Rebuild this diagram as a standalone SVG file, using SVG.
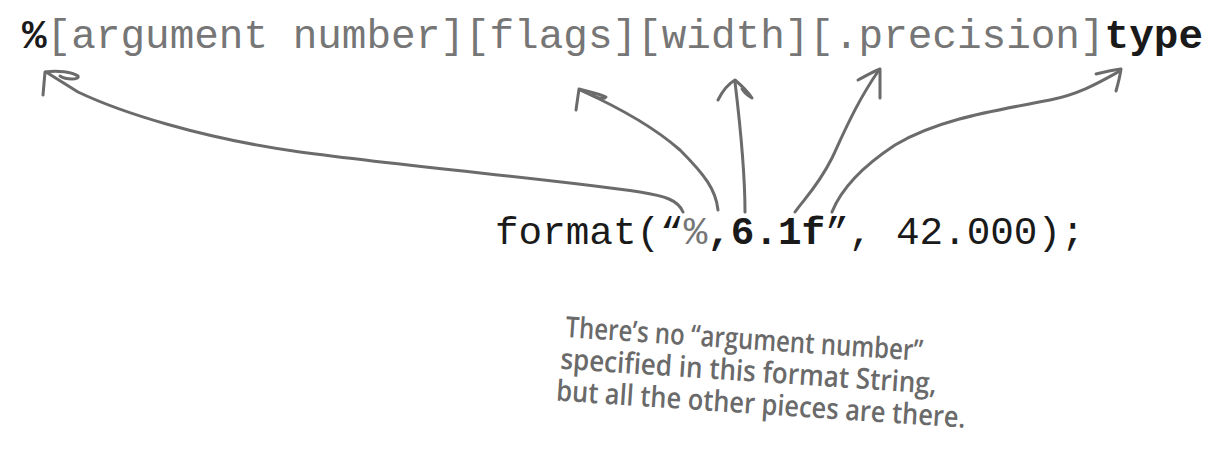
<svg xmlns="http://www.w3.org/2000/svg" width="1214" height="453" viewBox="0 0 1214 453">
<style>
.mono{font-family:"Liberation Mono","Courier New",monospace;}
.g{fill:#767676;}
.k{fill:#1a1a1a;}
.b{font-weight:bold;}
.arr{fill:none;stroke:#6b6b6b;stroke-width:3;stroke-linecap:round;stroke-linejoin:round;}
.note{font-family:"Open Sans","Liberation Sans",sans-serif;font-size:29px;font-weight:600;fill:#6a6a6a;}
</style>
<rect width="1214" height="453" fill="#ffffff"/>
<g id="format-spec">
<text class="mono" x="22" y="48" font-size="41"><tspan class="k b">%</tspan><tspan class="g">[argument number][flags][width][.precision]</tspan><tspan class="k b">type</tspan></text>
</g>
<g id="format-call">
<text class="mono" x="495" y="244" font-size="39.3"><tspan class="k">format(“</tspan><tspan class="g">%</tspan><tspan class="k b">,6.1f</tspan><tspan class="k">”, 42.000);</tspan></text>
</g>
<g id="connectors">
<path class="arr" d="M683,212 C678,200 665,196 640,192 C560,180 420,168 300,152 C200,138 120,112 78,92 L46,72"/>
<path class="arr" d="M43,95 L45,72 C58,70 72,72 78,76 C80,80 66,80 60,76"/>
<path class="arr" d="M718,210 C716,190 705,175 680,150 C655,128 620,108 580,90"/>
<path class="arr" d="M576,110 L579,89 C590,92 600,94 606,97 C604,100 596,98 592,95"/>
<path class="arr" d="M745,212 C745,180 742,140 735,82"/>
<path class="arr" d="M718,100 C722,92 728,84 735,80 C742,86 748,92 752,98 C748,96 744,92 742,89"/>
<path class="arr" d="M795,212 C805,198 818,186 832,158 C845,130 858,100 879,70"/>
<path class="arr" d="M858,80 C866,76 872,72 880,69 L880,98"/>
<path class="arr" d="M832,212 C840,192 860,168 895,145 C940,118 1000,110 1050,100 C1080,94 1100,82 1120,71"/>
<path class="arr" d="M1096,74 C1104,72 1112,70 1121,69 C1120,76 1118,84 1116,91"/>
</g>
<g id="note" transform="rotate(3.8 565 337)">
<text class="note" x="565" y="337" textLength="358" lengthAdjust="spacingAndGlyphs">There’s no “argument number”</text>
<text class="note" x="562" y="369" textLength="377" lengthAdjust="spacingAndGlyphs">specified in this format String,</text>
<text class="note" x="560" y="401" textLength="410" lengthAdjust="spacingAndGlyphs">but all the other pieces are there.</text>
</g>
</svg>
